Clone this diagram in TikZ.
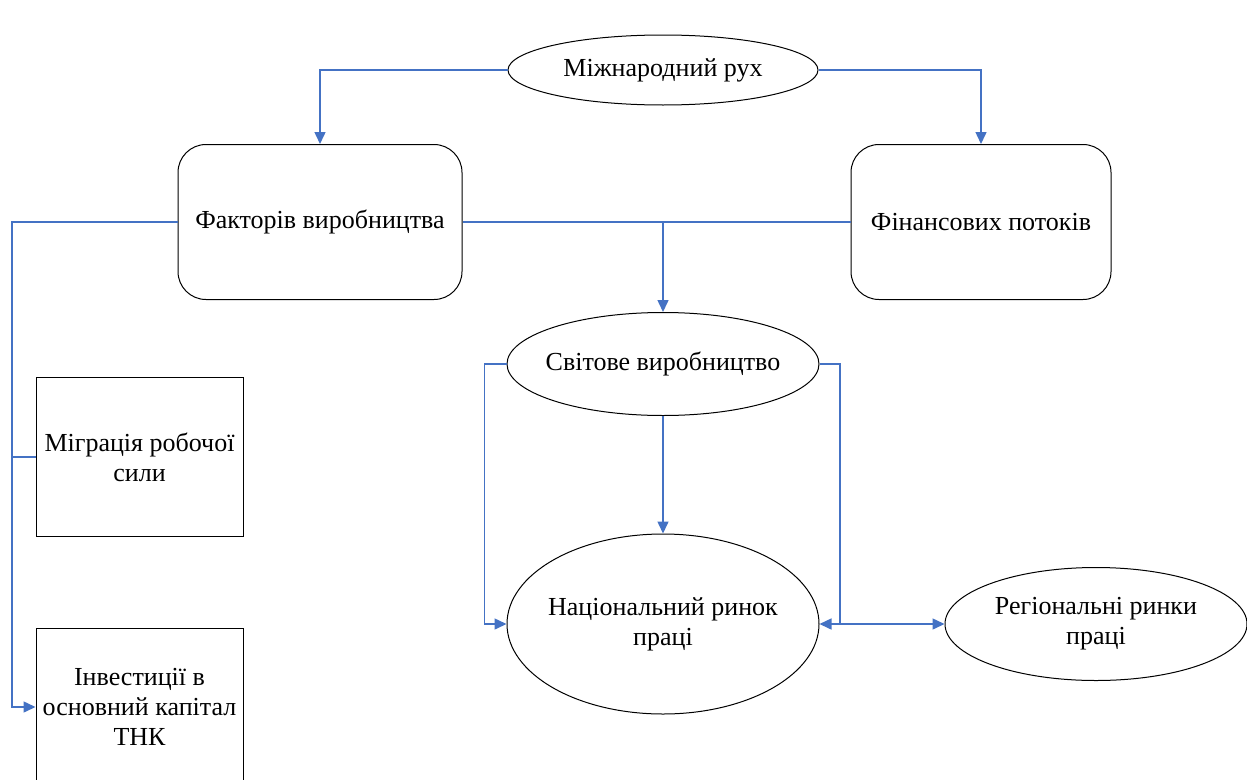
\documentclass[tikz,border=0pt]{standalone}
\usepackage{fontspec}
\setmainfont{Liberation Serif}
\usetikzlibrary{shapes.geometric,arrows.meta}
\definecolor{linkblue}{HTML}{4472C4}
\tikzset{
  oval/.style={draw,ellipse,inner sep=0pt,inner xsep=-30pt,align=center,line width=1pt},
  roundbox/.style={draw,rectangle,rounded corners=28pt,inner sep=0pt,align=center,line width=1pt},
  plainbox/.style={draw,rectangle,inner sep=0pt,align=center,line width=1pt},
  link/.style={draw=linkblue,line width=1.5pt}
}
\begin{document}
\begin{tikzpicture}[x=1pt,y=-1pt,>={Triangle[length=12pt,width=11pt]},
  every node/.style={font=\fontsize{26}{30}\selectfont}]
\useasboundingbox (0,0) rectangle (1247,779);
\begin{scope}
\clip (0,0) rectangle (1247,779);
% upper level
\node[oval,minimum width=310pt,minimum height=70pt] (rukh) at (663,70) {Міжнародний рух};
\node[roundbox,minimum width=284pt,minimum height=155pt] (faktor) at (320,222) {Факторів виробництва};
\node[roundbox,minimum width=260pt,minimum height=155pt] (finans) at (981,222) {Фінансових потоків};
% labour market
\node[oval,minimum width=312pt,minimum height=103pt] (svit) at (663,364) {Світове виробництво};
\node[oval,minimum width=312pt,minimum height=180pt] (nats) at (663,624) {Національний ринок\\праці};
\node[oval,minimum width=302pt,minimum height=113pt] (region) at (1096,624) {Регіональні ринки\\праці};
% left column
\node[plainbox,minimum width=207pt,minimum height=159pt] (migr) at (139.5,457) {Міграція робочої\\сили};
\node[plainbox,minimum width=207pt,minimum height=158pt] (invest) at (139.5,707) {Інвестиції в\\основний капітал\\ТНК};
\end{scope}
% connectors
\draw[link,->] (rukh.west) -| (faktor.north);
\draw[link,->] (rukh.east) -| (finans.north);
\draw[link] (faktor.east) -- (finans.west);
\draw[link,->] (faktor.east -| svit.north) -- (svit.north);
\coordinate (lbend) at (12,222);
\draw[link,->] (faktor.west) -- (lbend) |- (invest.west);
\draw[link] (lbend |- migr.west) -- (migr.west);
\coordinate (sbend) at (484.5,364);
\draw[link,->] (svit.west) -- (sbend) |- (nats.west);
\coordinate (rbend) at (840,624);
\draw[link,->] (svit.east) -| (rbend) -- (nats.east);
\draw[link,->] (rbend) -- (region.west);
\draw[link,->] (svit.south) -- (nats.north);
\end{tikzpicture}
\end{document}
